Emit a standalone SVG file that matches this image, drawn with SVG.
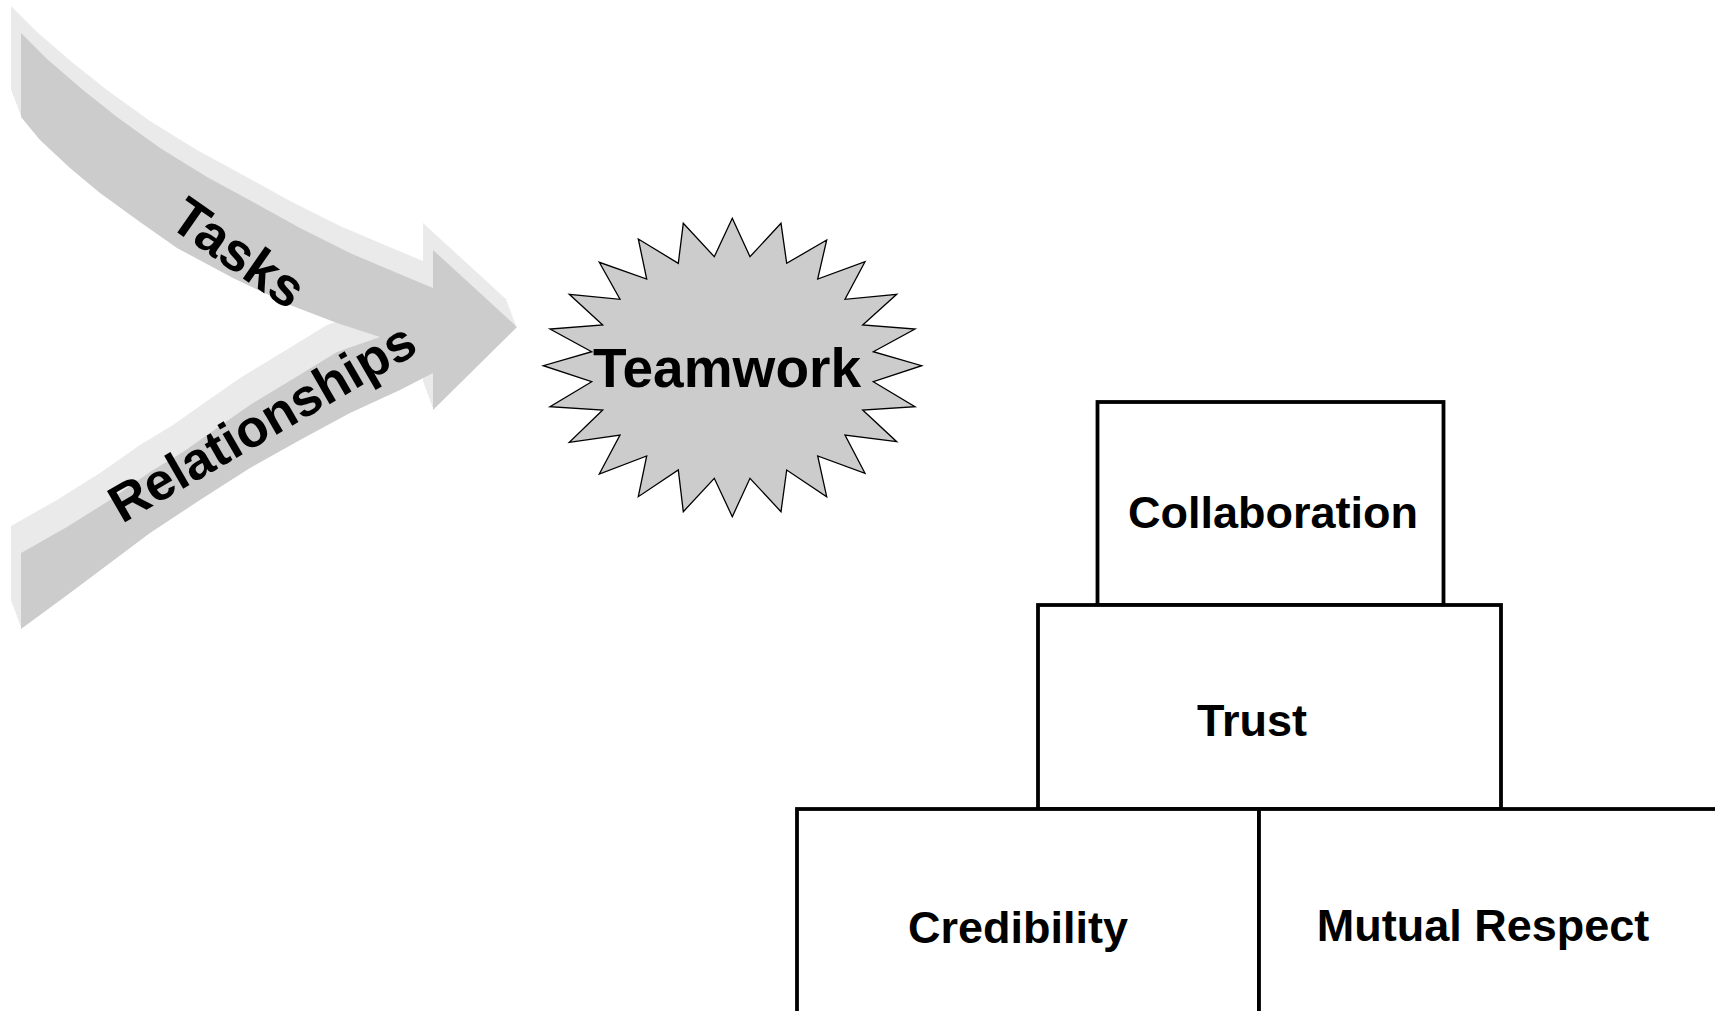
<svg xmlns="http://www.w3.org/2000/svg" xmlns:xlink="http://www.w3.org/1999/xlink" width="1715" height="1011" viewBox="0 0 1715 1011">
<style>
  .lbl { font-family: "Liberation Sans", Arial, sans-serif; font-weight: bold; fill: #000; }
  .box { fill: #fff; stroke: #000; stroke-width: 3.8; }
  .side { fill: #eaeaea; }
  .face { fill: #cccccc; }
  .star { fill: #cccccc; stroke: #000; stroke-width: 1.3; stroke-linejoin: miter; }
</style>
<defs>
  <path id="arrowShape" d="M21,33 L47,59 L83,90 L117,117 L160,148 L207,177 L253,202 L300,228 L350,253 L390,270 L433,288 L433,250 L517,327 L433,410 L433,373 L400,390 L350,413 L300,440 L250,468 L200,500 L150,533 L110,563 L70,593 L21,629 L21,553 L67,527 L110,500 L150,472 L183,452 L217,428 L250,405 L283,385 L337,352 L380,337 L337,323 L290,305 L233,278 L177,248 L140,222 L100,193 L70,168 L40,140 L21,117 Z"/>
</defs>
<rect width="1715" height="1011" fill="#fff"/>
<g id="connectors">
  <g id="merge-arrow">
    <use href="#arrowShape" class="side" transform="translate(-10,-27)"/>
    <use href="#arrowShape" class="side" transform="translate(-9,-24.3)"/>
    <use href="#arrowShape" class="side" transform="translate(-8,-21.6)"/>
    <use href="#arrowShape" class="side" transform="translate(-7,-18.9)"/>
    <use href="#arrowShape" class="side" transform="translate(-6,-16.2)"/>
    <use href="#arrowShape" class="side" transform="translate(-5,-13.5)"/>
    <use href="#arrowShape" class="side" transform="translate(-4,-10.8)"/>
    <use href="#arrowShape" class="side" transform="translate(-3,-8.1)"/>
    <use href="#arrowShape" class="side" transform="translate(-2,-5.4)"/>
    <use href="#arrowShape" class="side" transform="translate(-1,-2.7)"/>
    <use href="#arrowShape" class="face"/>
  </g>
</g>
<g id="tasks">
  <text class="lbl" font-size="54" text-anchor="middle" transform="translate(228,268) rotate(35)">Tasks</text>
</g>
<g id="relationships">
  <text class="lbl" font-size="52.5" text-anchor="middle" transform="translate(271,438) rotate(-30)">Relationships</text>
</g>
<g id="teamwork">
  <path class="star" d="M732.3,218.3 L750,256.7 L781,223.3 L786.7,263.3 L826.7,240 L817.7,279 L865,261.7 L845,299.3 L896.7,294.3 L862.7,325 L915,329 L873.3,351.7 L921.7,365.7 L873.3,381.7 L915,406.7 L862.7,410 L896.7,441.7 L845,435 L865,473.3 L817.7,456 L826.7,496.7 L786.7,470 L781,511.7 L750,478.3 L732.3,516.7 L714.3,478.3 L683.3,511.7 L678.3,470 L638.3,496.7 L646.7,456 L599.3,474 L620,435 L569.3,442.3 L602.7,410 L550,406.7 L591.7,381.7 L543.3,365.7 L591.7,351.7 L550,329 L602.7,325 L569.3,294.3 L620,299.3 L599.3,262.3 L646.7,279 L638.3,239 L678.3,263.3 L683.3,223.3 L714.3,256.7 Z"/>
  <text class="lbl" font-size="55" text-anchor="middle" x="727" y="387">Teamwork</text>
</g>
<g id="collaboration">
  <rect class="box" x="1097.5" y="402" width="346" height="203"/>
  <text class="lbl" font-size="45" text-anchor="middle" x="1273" y="528">Collaboration</text>
</g>
<g id="trust">
  <rect class="box" x="1038" y="605" width="463" height="204"/>
  <text class="lbl" font-size="45" text-anchor="middle" x="1252" y="736">Trust</text>
</g>
<g id="credibility">
  <rect class="box" x="797" y="809" width="462" height="215"/>
  <text class="lbl" font-size="45" text-anchor="middle" x="1018" y="943">Credibility</text>
</g>
<g id="mutual-respect">
  <rect class="box" x="1259" y="809" width="470" height="215"/>
  <text class="lbl" font-size="45" text-anchor="middle" x="1483" y="941">Mutual Respect</text>
</g>
</svg>
